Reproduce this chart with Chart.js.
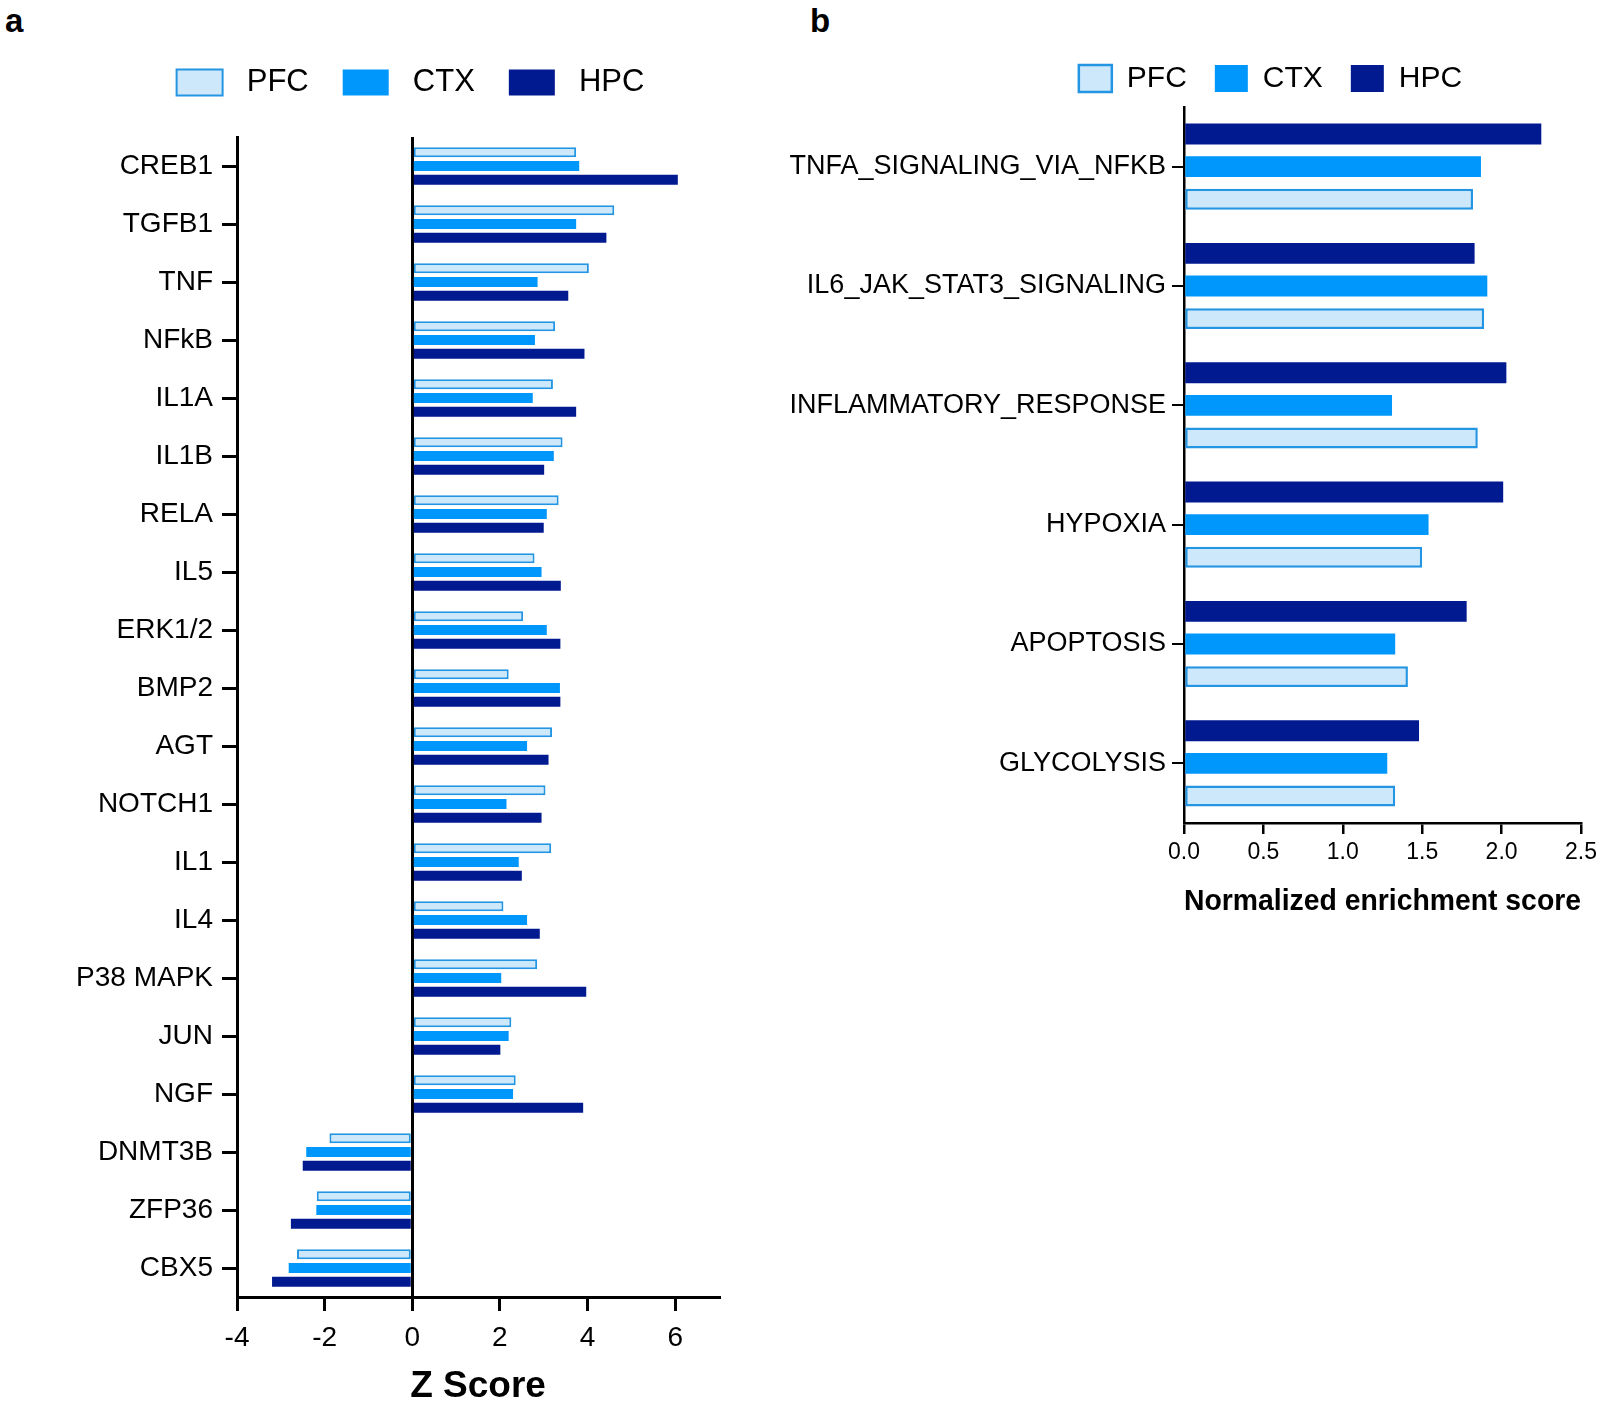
<!DOCTYPE html>
<html><head><meta charset="utf-8">
<script src="https://cdn.jsdelivr.net/npm/chart.js@4.4.0/dist/chart.umd.min.js"></script>
<style>
html,body{margin:0;padding:0;background:#fff;width:1600px;height:1403px;overflow:hidden;position:relative}
canvas{position:absolute;top:0}
#ca{left:0}
#cb{left:760px}
.lbl{position:absolute;font:bold 33px "Liberation Sans",Arial,sans-serif;line-height:33px;color:#000}
</style></head><body>
<div class="lbl" style="left:5px;top:4px">a</div>
<div class="lbl" style="left:810px;top:4px">b</div>
<canvas id="ca" width="740" height="1440" style="width:740px;height:1440px"></canvas>
<canvas id="cb" width="880" height="960" style="width:880px;height:960px"></canvas>
<script>
// ---------- Panel a data ----------
const genes = ['CREB1','TGFB1','TNF','NFkB','IL1A','IL1B','RELA','IL5','ERK1/2','BMP2','AGT','NOTCH1','IL1','IL4','P38 MAPK','JUN','NGF','DNMT3B','ZFP36','CBX5'];
const zPFC = [3.74, 4.61, 4.03, 3.26, 3.21, 3.43, 3.34, 2.79, 2.53, 2.20, 3.19, 3.04, 3.17, 2.08, 2.85, 2.26, 2.36, -1.89, -2.18, -2.63];
const zCTX = [3.81, 3.74, 2.86, 2.80, 2.75, 3.23, 3.07, 2.95, 3.07, 3.37, 2.62, 2.15, 2.43, 2.62, 2.03, 2.20, 2.30, -2.42, -2.19, -2.82];
const zHPC = [6.06, 4.43, 3.56, 3.93, 3.74, 3.01, 3.00, 3.39, 3.38, 3.38, 3.11, 2.95, 2.50, 2.91, 3.97, 2.01, 3.90, -2.50, -2.77, -3.20];
const zTickValues = [-4, -2, 0, 2, 4, 6];

// ---------- Panel b data ----------
const pathways = ['TNFA_SIGNALING_VIA_NFKB','IL6_JAK_STAT3_SIGNALING','INFLAMMATORY_RESPONSE','HYPOXIA','APOPTOSIS','GLYCOLYSIS'];
const nesPFC = [1.82, 1.89, 1.85, 1.50, 1.41, 1.33];
const nesCTX = [1.87, 1.91, 1.31, 1.54, 1.33, 1.28];
const nesHPC = [2.25, 1.83, 2.03, 2.01, 1.78, 1.48];
const nesTickValues = [0, 0.5, 1.0, 1.5, 2.0, 2.5];

const seriesNames = ['PFC','CTX','HPC'];

const FAM = '"Liberation Sans", Arial, Helvetica, sans-serif';
const C_PFC_FILL = '#cde8fb', C_PFC_BORDER = '#2495e2', C_CTX = '#0097fc', C_HPC = '#011a90';

// fixes legend block height and shifts it horizontally
function legendTweak(h, dx){
  return {
    id:'legendTweak',
    beforeInit(chart){
      const orig = chart.legend.fit;
      chart.legend.fit = function(){ orig.call(this); this.height = h; };
    },
    afterLayout(chart){
      chart.legend.left += dx;
      chart.legend.right += dx;
    }
  };
}

// ---------- Panel a ----------
new Chart(document.getElementById('ca'), {
  type: 'bar',
  data: {
    labels: genes,
    datasets: [
      { label: seriesNames[0], data: zPFC, backgroundColor: C_PFC_FILL, borderColor: C_PFC_BORDER, borderWidth: 2, borderSkipped: false, barPercentage: 0.74, categoryPercentage: 0.71 },
      { label: seriesNames[1], data: zCTX, backgroundColor: C_CTX, borderColor: C_CTX, borderWidth: 0, barPercentage: 0.74, categoryPercentage: 0.71 },
      { label: seriesNames[2], data: zHPC, backgroundColor: C_HPC, borderColor: C_HPC, borderWidth: 0, barPercentage: 0.74, categoryPercentage: 0.71 }
    ]
  },
  options: {
    indexAxis: 'y',
    responsive: false,
    animation: false,
    devicePixelRatio: 1,
    layout: { padding: { left: 0, right: 21, top: 33, bottom: 0 } },
    plugins: {
      tooltip: { enabled: false },
      legend: {
        display: true, position: 'top', align: 'center',
        labels: {
          boxWidth: 46, boxHeight: 26, padding: 34, color: '#000',
          font: { size: 31, family: FAM },
          generateLabels(chart){
            const items = Chart.defaults.plugins.legend.labels.generateLabels(chart);
            items.forEach(it => { it.text = ' ' + it.text; });
            return items;
          }
        }
      }
    },
    scales: {
      x: {
        type: 'linear', min: -4, max: 7,
        afterBuildTicks: s => { s.ticks = zTickValues.map(v => ({ value: v })); },
        ticks: { font: { size: 28, family: FAM }, color: '#000', padding: 10, maxRotation: 0 },
        grid: {
          color: c => (c.tick && c.tick.value === 0) ? '#000' : 'rgba(0,0,0,0)',
          lineWidth: 3, tickColor: '#000', tickWidth: 3, tickLength: 14, drawTicks: true
        },
        border: { display: true, color: '#000', width: 3 },
        title: { display: true, text: 'Z Score', color: '#000', font: { size: 37, weight: 'bold', family: FAM }, padding: { top: 0, bottom: 31 } },
        afterFit: s => { s.height = 143; }
      },
      y: {
        type: 'category', offset: true,
        ticks: { font: { size: 28, family: FAM }, color: '#000', padding: 9, autoSkip: false },
        grid: { drawOnChartArea: false, offset: false, color: '#000', lineWidth: 3, tickColor: '#000', tickWidth: 3, tickLength: 15 },
        border: { display: true, color: '#000', width: 3 },
        afterFit: s => { s.width = 237; }
      }
    }
  },
  plugins: [legendTweak(104, 51)]
});

// ---------- Panel b ----------
new Chart(document.getElementById('cb'), {
  type: 'bar',
  data: {
    labels: pathways,
    datasets: [
      { label: seriesNames[2], data: nesHPC, backgroundColor: C_HPC, borderColor: C_HPC, borderWidth: 0, barPercentage: 0.64, categoryPercentage: 0.82 },
      { label: seriesNames[1], data: nesCTX, backgroundColor: C_CTX, borderColor: C_CTX, borderWidth: 0, barPercentage: 0.64, categoryPercentage: 0.82 },
      { label: seriesNames[0], data: nesPFC, backgroundColor: C_PFC_FILL, borderColor: C_PFC_BORDER, borderWidth: 2.5, borderSkipped: false, barPercentage: 0.64, categoryPercentage: 0.82 }
    ]
  },
  options: {
    indexAxis: 'y',
    responsive: false,
    animation: false,
    devicePixelRatio: 1,
    layout: { padding: { left: 0, right: 59, top: 35.5, bottom: 0 } },
    plugins: {
      tooltip: { enabled: false },
      legend: {
        display: true, position: 'top', align: 'center', reverse: true,
        labels: { boxWidth: 33, boxHeight: 27, padding: 28, color: '#000', font: { size: 30, family: FAM } }
      }
    },
    scales: {
      x: {
        type: 'linear', min: 0, max: 2.5,
        afterBuildTicks: s => { s.ticks = nesTickValues.map(v => ({ value: v })); },
        ticks: { font: { size: 23, family: FAM }, color: '#000', padding: 5, maxRotation: 0, callback: v => Number(v).toFixed(1) },
        grid: { drawOnChartArea: false, color: '#000', lineWidth: 2.5, tickColor: '#000', tickWidth: 2.5, tickLength: 11 },
        border: { display: true, color: '#000', width: 2.5 },
        title: { display: true, text: 'Normalized enrichment score', color: '#000', font: { size: 30, weight: 'bold', family: FAM }, padding: { top: 0, bottom: 40 } },
        afterFit: s => { s.height = 137; }
      },
      y: {
        type: 'category', offset: true,
        ticks: { font: { size: 27, family: FAM }, color: '#000', padding: 6, autoSkip: false },
        grid: { drawOnChartArea: false, offset: false, color: '#000', lineWidth: 2, tickColor: '#000', tickWidth: 2, tickLength: 12 },
        border: { display: true, color: '#000', width: 2.5 },
        afterFit: s => { s.width = 424; }
      }
    }
  },
  plugins: [legendTweak(71.5, 100)]
});
</script>
</body></html>
